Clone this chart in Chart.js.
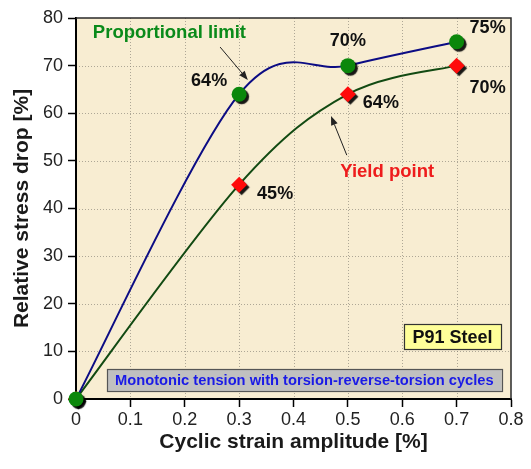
<!DOCTYPE html>
<html>
<head>
<meta charset="utf-8">
<title>Relative stress drop vs cyclic strain amplitude</title>
<script src="https://cdn.jsdelivr.net/npm/chart.js@4.4.0/dist/chart.umd.min.js"></script>
<style>
    html, body { margin: 0; padding: 0; background: #ffffff; }
    #wrap { width: 531px; height: 469px; }
</style>
</head>
<body>
<div id="wrap"><canvas id="stressChart" width="531" height="469"></canvas></div>
<script>
// Test data: cyclic strain amplitude [%] vs relative stress drop [%]
const strainAmplitude = [0, 0.3, 0.5, 0.7];
const proportionalLimit = [0, 64, 70, 75];
const yieldPoint = [0, 45, 64, 70];

const xTicks = [0, 0.1, 0.2, 0.3, 0.4, 0.5, 0.6, 0.7, 0.8];
const yTicks = [0, 10, 20, 30, 40, 50, 60, 70, 80];

const FONT = "'Liberation Sans', Arial, sans-serif";

// Pixel offsets of the percentage labels from their markers (first point has no label)
const propLabelOffsets = [null, [-30, -13], [0, -25], [31, -14]];
const yieldLabelOffsets = [null, [36, 9], [33, 9], [31, 22]];

function toPoints(xs, ys) {
    return xs.map((x, i) => ({ x: x, y: ys[i] }));
}

// Beige plot background with dotted grid
const plotBackground = {
    id: 'plotBackground',
    beforeDraw(chart) {
        const { ctx, chartArea: a, scales } = chart;
        ctx.save();
        ctx.fillStyle = '#f8edd2';
        ctx.fillRect(a.left, a.top, a.right - a.left, a.bottom - a.top);

        ctx.strokeStyle = 'rgba(125, 120, 110, 0.6)';
        ctx.lineWidth = 1;
        ctx.setLineDash([1, 2]);
        xTicks.slice(1, -1).forEach(v => {
            const px = Math.round(scales.x.getPixelForValue(v)) + 0.5;
            ctx.beginPath();
            ctx.moveTo(px, a.top);
            ctx.lineTo(px, a.bottom);
            ctx.stroke();
        });
        yTicks.slice(1, -1).forEach(v => {
            const py = Math.round(scales.y.getPixelForValue(v)) + 0.5;
            ctx.beginPath();
            ctx.moveTo(a.left, py);
            ctx.lineTo(a.right, py);
            ctx.stroke();
        });
        ctx.restore();
    },
    afterDatasetsDraw(chart) {
        // thin frame on the top and right of the plot area
        const { ctx, chartArea: a } = chart;
        ctx.save();
        ctx.strokeStyle = '#2a2a2a';
        ctx.lineWidth = 1.5;
        ctx.beginPath();
        ctx.moveTo(a.left, a.top);
        ctx.lineTo(a.right, a.top);
        ctx.lineTo(a.right, a.bottom);
        ctx.stroke();
        ctx.restore();
    }
};

// Spreadsheet-style smoothing: each control arm is 1/6 of the chord
// between the neighbouring points, without Chart.js' distance weighting
const smoothCurves = {
    id: 'smoothCurves',
    beforeDatasetDraw(chart, args) {
        if (!args.meta._dataset.smooth) return;
        const line = args.meta.dataset;
        line.updateControlPoints(chart.chartArea, 'x');
        const pts = args.meta.data;
        pts.forEach((p, i) => {
            const prev = pts[i - 1] || p;
            const next = pts[i + 1] || p;
            const dx = (next.x - prev.x) / 6;
            const dy = (next.y - prev.y) / 6;
            p.cp1x = p.x - dx;
            p.cp1y = p.y - dy;
            p.cp2x = p.x + dx;
            p.cp2y = p.y + dy;
        });
    }
};

// Drop shadow under the markers
const markerShadow = {
    id: 'markerShadow',
    beforeDatasetDraw(chart, args) {
        if (!args.meta._dataset.shadow) return;
        const ctx = chart.ctx;
        ctx.save();
        ctx.shadowColor = 'rgba(0, 0, 0, 0.9)';
        ctx.shadowOffsetX = 2.5;
        ctx.shadowOffsetY = 2.5;
        ctx.shadowBlur = 1;
    },
    afterDatasetDraw(chart, args) {
        if (!args.meta._dataset.shadow) return;
        chart.ctx.restore();
    }
};

function drawArrow(ctx, x1, y1, x2, y2) {
    const ang = Math.atan2(y2 - y1, x2 - x1);
    const len = 9, half = 3.5;
    ctx.beginPath();
    ctx.moveTo(x1, y1);
    ctx.lineTo(x2 - Math.cos(ang) * len, y2 - Math.sin(ang) * len);
    ctx.stroke();
    ctx.beginPath();
    ctx.moveTo(x2, y2);
    ctx.lineTo(x2 - Math.cos(ang) * len - Math.sin(ang) * half, y2 - Math.sin(ang) * len + Math.cos(ang) * half);
    ctx.lineTo(x2 - Math.cos(ang) * len + Math.sin(ang) * half, y2 - Math.sin(ang) * len - Math.cos(ang) * half);
    ctx.closePath();
    ctx.fill();
}

function drawTextBox(ctx, sx, sy, box, text, fill, stroke, color, font) {
    const x0 = sx.getPixelForValue(box[0]);
    const x1 = sx.getPixelForValue(box[1]);
    const y0 = sy.getPixelForValue(box[2]);
    const y1 = sy.getPixelForValue(box[3]);
    ctx.fillStyle = fill;
    ctx.fillRect(x0, y0, x1 - x0, y1 - y0);
    ctx.strokeStyle = stroke;
    ctx.lineWidth = 1.2;
    ctx.strokeRect(Math.round(x0) + 0.5, Math.round(y0) + 0.5, Math.round(x1 - x0), Math.round(y1 - y0));
    ctx.fillStyle = color;
    ctx.font = font;
    ctx.textAlign = 'center';
    ctx.textBaseline = 'middle';
    ctx.fillText(text, (x0 + x1) / 2, (y0 + y1) / 2 + 1);
}

// Value labels, arrows, captions and boxes
const annotations = {
    id: 'annotations',
    afterDraw(chart) {
        const { ctx, scales } = chart;
        const sx = scales.x, sy = scales.y;
        ctx.save();

        ctx.font = 'bold 18px ' + FONT;
        ctx.fillStyle = '#111111';
        ctx.textAlign = 'center';
        ctx.textBaseline = 'middle';
        [[proportionalLimit, propLabelOffsets], [yieldPoint, yieldLabelOffsets]].forEach(([vals, offs]) => {
            vals.forEach((v, i) => {
                if (!offs[i]) return;
                const px = sx.getPixelForValue(strainAmplitude[i]) + offs[i][0];
                const py = sy.getPixelForValue(v) + offs[i][1];
                ctx.fillText(v + '%', px, py);
            });
        });

        ctx.textAlign = 'left';
        ctx.font = 'bold 18.5px ' + FONT;
        ctx.fillStyle = '#0a8a1a';
        ctx.fillText('Proportional limit', sx.getPixelForValue(0.031), sy.getPixelForValue(76.9));
        ctx.fillStyle = '#ee1c1c';
        ctx.fillText('Yield point', sx.getPixelForValue(0.486), sy.getPixelForValue(47.7));

        ctx.strokeStyle = '#222222';
        ctx.fillStyle = '#222222';
        ctx.lineWidth = 1;
        drawArrow(ctx, sx.getPixelForValue(0.265), sy.getPixelForValue(73.9),
                       sx.getPixelForValue(0.316), sy.getPixelForValue(67.0));
        drawArrow(ctx, sx.getPixelForValue(0.498), sy.getPixelForValue(51.2),
                       sx.getPixelForValue(0.469), sy.getPixelForValue(59.4));

        drawTextBox(ctx, sx, sy, [0.603, 0.782, 15.7, 10.5], 'P91 Steel',
                    '#ffff99', '#333333', '#111111', 'bold 18px ' + FONT);
        drawTextBox(ctx, sx, sy, [0.057, 0.783, 6.3, 1.7],
                    'Monotonic tension with torsion-reverse-torsion cycles',
                    '#c0c0c0', '#555555', '#1a1ae6', 'bold 14.7px ' + FONT);
        ctx.restore();
    }
};

const ctx = document.getElementById('stressChart');

new Chart(ctx, {
    type: 'scatter',
    data: {
        datasets: [
            {
                label: 'Proportional limit',
                data: toPoints(strainAmplitude, proportionalLimit),
                pointStyle: 'circle',
                pointRadius: 7.5,
                pointBackgroundColor: '#0b870b',
                pointBorderColor: '#0b870b',
                pointBorderWidth: 0,
                showLine: false,
                clip: false,
                shadow: true,
                order: 0
            },
            {
                label: 'Yield point',
                data: toPoints(strainAmplitude, yieldPoint),
                pointStyle: 'rectRot',
                pointRadius: 8,
                pointBackgroundColor: '#ff0a0a',
                pointBorderColor: '#ff0a0a',
                pointBorderWidth: 0,
                showLine: false,
                clip: false,
                shadow: true,
                order: 1
            },
            {
                label: 'Proportional limit curve',
                data: toPoints(strainAmplitude, proportionalLimit),
                showLine: true,
                borderColor: '#0c0c84',
                borderWidth: 2,
                pointRadius: 0,
                tension: 0.4,
                smooth: true,
                clip: false,
                order: 2
            },
            {
                label: 'Yield point curve',
                data: toPoints(strainAmplitude, yieldPoint),
                showLine: true,
                borderColor: '#124a12',
                borderWidth: 2,
                pointRadius: 0,
                tension: 0.4,
                smooth: true,
                clip: false,
                order: 3
            }
        ]
    },
    options: {
        responsive: false,
        animation: false,
        devicePixelRatio: 1,
        layout: {
            padding: { left: 0, right: 20, top: 18, bottom: 0 }
        },
        plugins: {
            legend: { display: false },
            tooltip: { enabled: false }
        },
        scales: {
            x: {
                type: 'linear',
                min: 0,
                max: 0.8,
                afterBuildTicks: scale => {
                    scale.ticks = xTicks.map(v => ({ value: v }));
                },
                afterFit: scale => {
                    scale.height = 70;
                },
                ticks: {
                    color: '#222222',
                    padding: 2,
                    font: { family: FONT, size: 18 },
                    callback: v => String(v)
                },
                grid: {
                    drawOnChartArea: false,
                    tickLength: 8,
                    tickColor: '#000000',
                    tickWidth: 1.5
                },
                border: { color: '#000000', width: 2 },
                title: {
                    display: true,
                    text: 'Cyclic strain amplitude [%]',
                    color: '#1a1a1a',
                    font: { family: FONT, size: 21, weight: 'bold' },
                    padding: { top: 0, bottom: 14 }
                }
            },
            y: {
                type: 'linear',
                min: 0,
                max: 80,
                afterBuildTicks: scale => {
                    scale.ticks = yTicks.map(v => ({ value: v }));
                },
                afterFit: scale => {
                    scale.width = 76;
                },
                ticks: {
                    color: '#222222',
                    padding: 5,
                    font: { family: FONT, size: 18 },
                    callback: v => String(v)
                },
                grid: {
                    drawOnChartArea: false,
                    tickLength: 8,
                    tickColor: '#000000',
                    tickWidth: 1.5
                },
                border: { color: '#000000', width: 2 },
                title: {
                    display: true,
                    text: 'Relative stress drop [%]',
                    color: '#1a1a1a',
                    font: { family: FONT, size: 21, weight: 'bold' },
                    padding: { top: 10, bottom: 0 }
                }
            }
        }
    },
    plugins: [plotBackground, smoothCurves, markerShadow, annotations]
});
</script>
</body>
</html>
